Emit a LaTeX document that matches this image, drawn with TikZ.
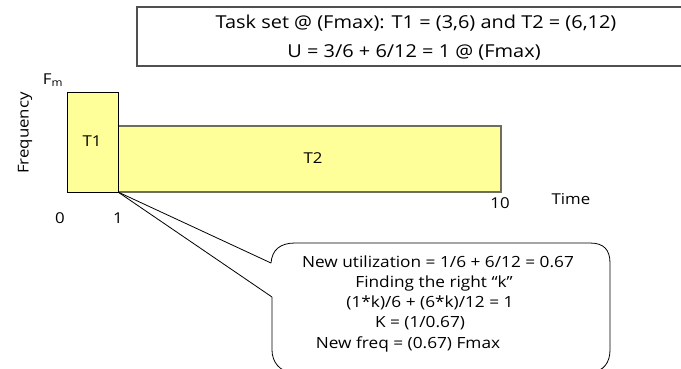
\documentclass[tikz,border=0pt]{standalone}
\usepackage{fontspec}
\setmainfont{Open Sans}[FakeStretch=1.12]
\definecolor{barfill}{RGB}{255,255,153}
\definecolor{baredge}{RGB}{110,110,90}
\definecolor{boxedge}{RGB}{80,80,80}
\begin{document}
\begin{tikzpicture}[x=1pt,y=-1pt,
  lbl/.style={inner sep=0pt,font=\fontsize{15}{18}\selectfont},
  toptxt/.style={inner sep=0pt,anchor=base,font=\fontsize{17.8}{21}\selectfont},
  bubtxt/.style={inner sep=0pt,anchor=base,font=\fontsize{15.4}{19}\selectfont},
  bar/.style={draw=baredge,fill=barfill,line width=1.2pt,inner sep=0pt,outer sep=0pt}]
\useasboundingbox (0,0) rectangle (681,368);
\clip (0,0) rectangle (681,368);
% top box
\draw[boxedge,line width=1.4pt] (137,7) rectangle (700,66);
\node[toptxt] (l1) at (416,28) {Task set @ (Fmax): T1 = (3,6) and T2 = (6,12)};
\node[toptxt] (l2) at (414,57) {U = 3/6 + 6/12 = 1 @ (Fmax)};
% bars
\node[bar,minimum width=383pt,minimum height=66pt,anchor=south west] (t2) at (118,192) {};
\node[bar,draw=black,line width=0.9pt,minimum width=51pt,minimum height=100pt,anchor=south west] (t1) at (67,192) {};
\node[lbl] at (92,141) {T1};
\node[lbl] at (313,158) {T2};
% axis labels
\node[lbl] (fm) at (53,80) {F\textsubscript{m}};
\node[lbl,rotate=90] (freq) at (25,133) {Frequency};
\node[lbl] (x0) at (60,218) {0};
\node[lbl] (x1) at (118,218) {1};
\node[lbl] (x10) at (500,203) {10};
\node[lbl] (time) at (571,199) {Time};
% callout
\coordinate (apex) at (t1.south east);
\coordinate (pa) at (271,263);
\coordinate (pb) at (272,297);
\draw[line width=0.8pt] (apex) -- (pa);
\draw[line width=0.8pt] (apex) -- (pb);
\draw[line width=0.8pt] (pa) .. controls (272,250) and (280,243) .. (295,243)
  -- (590,243) .. controls (604,243) and (610,250) .. (610,263)
  -- (610,350) .. controls (610,362) and (604,372) .. (590,372)
  -- (292,372) .. controls (280,372) and (272,362) .. (272,350) -- (pb);
\node[bubtxt] (b1) at (438,267) {New utilization = 1/6 + 6/12 = 0.67};
\node[bubtxt] (b2) at (434,287) {Finding the right “k”};
\node[bubtxt] (b3) at (430,307) {(1*k)/6 + (6*k)/12 = 1};
\node[bubtxt] (b4) at (420,327) {K = (1/0.67)};
\node[bubtxt] (b5) at (408,348) {New freq = (0.67) Fmax};
\end{tikzpicture}
\end{document}
